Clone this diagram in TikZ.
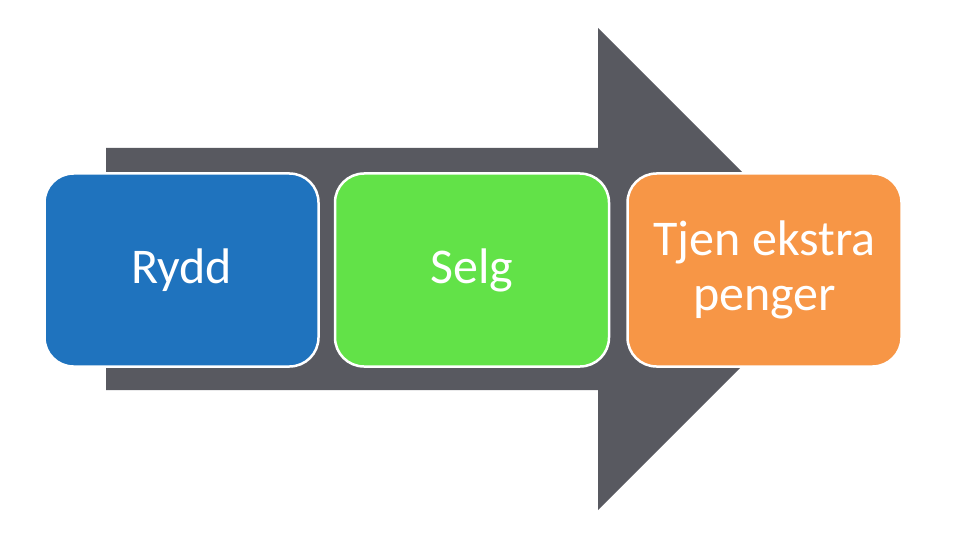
\documentclass[tikz,border=0pt]{standalone}
\usepackage{fontspec}
\setmainfont{Carlito}
\definecolor{arrowgray}{RGB}{88,89,96}
\definecolor{ryddblue}{RGB}{31,115,190}
\definecolor{selggreen}{RGB}{98,226,72}
\definecolor{tjenorange}{RGB}{247,150,70}
\tikzset{
  stepbox/.style={rectangle, rounded corners=29pt, draw=white, line width=2.5pt,
    minimum width=274pt, minimum height=193pt, text=white, align=center,
    font=\fontsize{50}{55}\selectfont},
}
\begin{document}
\begin{tikzpicture}[x=1pt,y=-1pt]
\useasboundingbox (0,0) rectangle (960,540);
% big arrow behind the steps
\fill[arrowgray] (106,148) -- (598,148) -- (598,28) -- (839,269)
  -- (598,510) -- (598,390) -- (106,390) -- cycle;

\node[stepbox, fill=ryddblue] (rydd) at (181.5,270) {Rydd};
\node[stepbox, fill=selggreen] (selg) at (472,270) {Selg};
\node[stepbox, fill=tjenorange] (tjen) at (764.5,270) {Tjen ekstra\\penger};
\end{tikzpicture}
\end{document}
